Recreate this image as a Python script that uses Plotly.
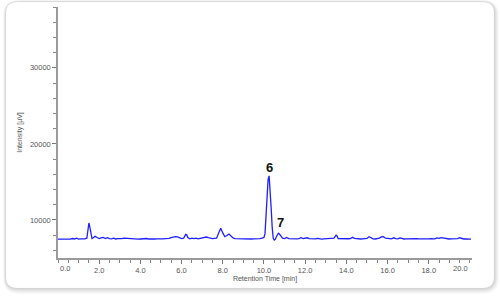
import plotly.graph_objects as go

# Retention time [min] and detector intensity [µV]
time_min = [
    0.0, 0.1, 0.2, 0.3, 0.4, 0.5, 0.6, 0.7, 0.8, 0.9, 1.0, 1.1, 1.2, 1.3, 1.4, 1.45, 1.5, 1.55, 1.6, 1.65,
    1.7, 1.8, 1.9, 2.0, 2.1, 2.2, 2.3, 2.4, 2.5, 2.6, 2.7, 2.8, 2.9, 3.0, 3.1, 3.2, 3.3, 3.4, 3.5, 3.6,
    3.7, 3.8, 3.9, 4.0, 4.1, 4.2, 4.3, 4.4, 4.5, 4.6, 4.7, 4.8, 4.9, 5.0, 5.1, 5.2, 5.3, 5.4, 5.5, 5.6,
    5.7, 5.8, 5.9, 6.0, 6.1, 6.2, 6.25, 6.3, 6.4, 6.5, 6.6, 6.7, 6.8, 6.9, 7.0, 7.1, 7.2, 7.3, 7.4, 7.5,
    7.6, 7.7, 7.8, 7.9, 8.0, 8.1, 8.2, 8.3, 8.4, 8.5, 8.6, 8.7, 8.8, 8.9, 9.0, 9.1, 9.2, 9.3, 9.4, 9.5,
    9.6, 9.7, 9.8, 9.9, 10.0, 10.05, 10.1, 10.15, 10.2, 10.25, 10.3, 10.35, 10.4, 10.45, 10.5, 10.55, 10.6, 10.7, 10.75, 10.8,
    10.9, 11.0, 11.1, 11.2, 11.3, 11.4, 11.5, 11.6, 11.7, 11.8, 11.9, 12.0, 12.1, 12.2, 12.3, 12.4, 12.5, 12.6, 12.7, 12.8,
    12.9, 13.0, 13.1, 13.2, 13.3, 13.4, 13.5, 13.55, 13.6, 13.7, 13.8, 13.9, 14.0, 14.1, 14.2, 14.3, 14.4, 14.5, 14.6, 14.7,
    14.8, 14.9, 15.0, 15.1, 15.2, 15.3, 15.4, 15.5, 15.6, 15.7, 15.8, 15.9, 16.0, 16.1, 16.2, 16.3, 16.4, 16.5, 16.6, 16.7,
    16.8, 16.9, 17.0, 17.1, 17.2, 17.3, 17.4, 17.5, 17.6, 17.7, 17.8, 17.9, 18.0, 18.1, 18.2, 18.3, 18.4, 18.5, 18.6, 18.7,
    18.8, 18.9, 19.0, 19.1, 19.2, 19.3, 19.4, 19.5, 19.6, 19.7, 19.8, 19.9, 20.0, 20.05,
]
intensity_uv = [
    7480, 7470, 7500, 7460, 7490, 7520, 7480, 7560, 7500, 7600, 7480, 7510, 7490, 7520, 7600, 8400, 9600, 9000, 7900, 7550,
    7620, 7850, 7700, 7560, 7640, 7700, 7560, 7680, 7540, 7520, 7600, 7500, 7540, 7510, 7560, 7600, 7580, 7520, 7500, 7530,
    7500, 7520, 7480, 7500, 7530, 7490, 7560, 7500, 7520, 7580, 7500, 7510, 7490, 7500, 7520, 7540, 7520, 7580, 7680, 7760,
    7820, 7780, 7620, 7560, 7600, 8100, 8050, 7700, 7520, 7600, 7540, 7620, 7520, 7580, 7600, 7680, 7760, 7680, 7600, 7560,
    7580, 7600, 8300, 8900, 8300, 7800, 7950, 8150, 7900, 7640, 7560, 7540, 7530, 7500, 7520, 7500, 7510, 7490, 7500, 7520,
    7500, 7510, 7540, 7600, 7700, 8200, 10200, 13500, 15300, 15800, 14200, 11500, 9000, 7600, 7350, 7450, 7800, 8250, 8150, 7900,
    7600, 7560, 7700, 7540, 7520, 7500, 7540, 7520, 7560, 7680, 7540, 7560, 7660, 7560, 7520, 7500, 7520, 7580, 7500, 7490,
    7520, 7540, 7520, 7560, 7540, 7600, 8000, 7900, 7560, 7540, 7520, 7500, 7510, 7530, 7560, 7720, 7580, 7520, 7540, 7500,
    7520, 7560, 7580, 7800, 7600, 7520, 7500, 7540, 7620, 7780, 7800, 7600, 7540, 7560, 7520, 7660, 7560, 7520, 7640, 7540,
    7500, 7520, 7540, 7500, 7560, 7620, 7560, 7520, 7500, 7510, 7520, 7500, 7510, 7540, 7500, 7520, 7640, 7580, 7680, 7620,
    7540, 7520, 7500, 7510, 7520, 7500, 7540, 7660, 7540, 7500, 7520, 7490, 7500, 7480,
]

# Peak labels
peak_names = ["6", "7"]
peak_times = [10.29, 10.78]
peak_label_y = [16950, 9620]

x_tick_vals = [2, 4, 6, 8, 10, 12, 14, 16, 18]
x_tick_text = ["2.0", "4.0", "6.0", "8.0", "10.0", "12.0", "14.0", "16.0", "18.0"]
x_end_labels = ["0.0", "20.0"]
x_end_label_pos = [0.34, 19.55]
y_tick_vals = [10000, 20000, 30000]
y_tick_text = ["10000", "20000", "30000"]

W, H = 500, 298
L, R, T, B = 58, 28, 7, 40
PW, PH = W - L - R, H - T - B


def px(x):
    return (x - L) / PW


def py(y):
    return (H - B - y) / PH


def rounded_rect(x0, y0, x1, y1, r):
    # pixel coordinates -> paper path with rounded corners
    pts = [
        f"M {px(x0 + r)} {py(y0)}",
        f"L {px(x1 - r)} {py(y0)}",
        f"Q {px(x1)} {py(y0)} {px(x1)} {py(y0 + r)}",
        f"L {px(x1)} {py(y1 - r)}",
        f"Q {px(x1)} {py(y1)} {px(x1 - r)} {py(y1)}",
        f"L {px(x0 + r)} {py(y1)}",
        f"Q {px(x0)} {py(y1)} {px(x0)} {py(y1 - r)}",
        f"L {px(x0)} {py(y0 + r)}",
        f"Q {px(x0)} {py(y0)} {px(x0 + r)} {py(y0)}",
        "Z",
    ]
    return " ".join(pts)


shapes = []
# soft shadow
for i, a in enumerate([0.035, 0.035, 0.035, 0.03, 0.025]):
    d = i + 1
    shapes.append(dict(
        type="path", xref="paper", yref="paper", layer="below",
        path=rounded_rect(6 - d * 0.6, 2 - d * 0.4, 494 + d, 288 + d * 1.2, 11 + d),
        fillcolor=f"rgba(0,0,0,{a})", line=dict(width=0),
    ))
shapes.append(dict(
    type="path", xref="paper", yref="paper", layer="below",
    path=rounded_rect(6, 2, 494, 288, 11),
    fillcolor="white", line=dict(width=0.6, color="rgba(0,0,0,0.04)"),
))

fig = go.Figure()
fig.add_trace(go.Scatter(
    x=time_min, y=intensity_uv, mode="lines",
    line=dict(color="#1f1fff", width=1.3),
    hoverinfo="skip", showlegend=False,
))

annotations = []
for name, t, yv in zip(peak_names, peak_times, peak_label_y):
    annotations.append(dict(
        x=t, y=yv, xref="x", yref="y", text=f"<b>{name}</b>", showarrow=False,
        font=dict(family="Liberation Sans", size=13, color="#111111"),
        xanchor="center", yanchor="middle",
    ))
for lab, pos in zip(x_end_labels, x_end_label_pos):
    annotations.append(dict(
        x=pos, y=0, xref="x", yref="paper", text=lab, showarrow=False,
        font=dict(family="Liberation Sans", size=7.5, color="#555555"),
        xanchor="center", yanchor="top", yshift=-4,
    ))

axis_font = dict(family="Liberation Sans", size=7.5, color="#555555")
title_font = dict(family="Liberation Sans", size=7, color="#555555")

fig.update_layout(
    width=W, height=H,
    margin=dict(l=L, r=R, t=T, b=B, pad=0),
    paper_bgcolor="white",
    plot_bgcolor="rgba(0,0,0,0)",
    shapes=shapes,
    annotations=annotations,
    xaxis=dict(
        range=[0, 20.1], showgrid=False, zeroline=False,
        showline=True, linecolor="#9a9a9a", linewidth=1.5,
        tickmode="array", tickvals=x_tick_vals, ticktext=x_tick_text,
        ticks="outside", ticklen=4, tickwidth=1, tickcolor="#777777",
        tickfont=axis_font,
        minor=dict(dtick=0.5, tick0=0, ticks="outside", ticklen=3, tickwidth=1, tickcolor="#888888"),
        title=dict(text="Retention Time [min]", font=title_font, standoff=2),
        automargin=False, fixedrange=True,
    ),
    yaxis=dict(
        range=[5000, 38000], showgrid=False, zeroline=False,
        showline=True, linecolor="#9a9a9a", linewidth=1.5,
        tickmode="array", tickvals=y_tick_vals, ticktext=y_tick_text,
        ticks="outside", ticklen=4, tickwidth=1, tickcolor="#777777",
        tickfont=axis_font,
        minor=dict(dtick=2000, tick0=0, ticks="outside", ticklen=3, tickwidth=1, tickcolor="#888888"),
        title=dict(text="Intensity [µV]", font=title_font, standoff=6),
        automargin=False, fixedrange=True,
    ),
)

fig.write_html("out.html", config={"displayModeBar": False})
